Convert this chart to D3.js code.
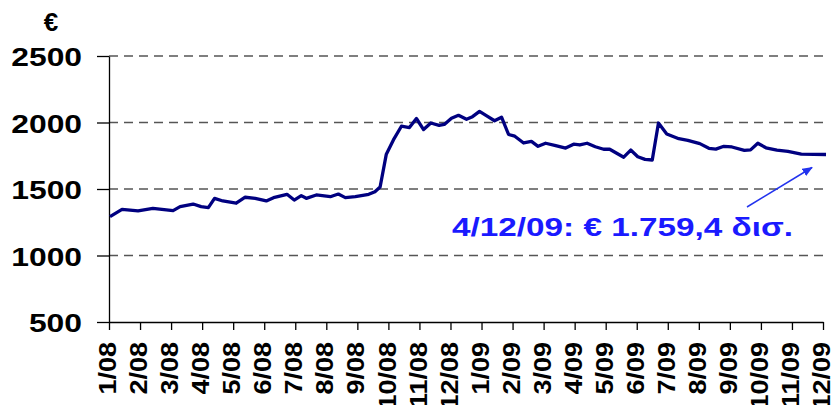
<!DOCTYPE html>
<html>
<head>
<meta charset="utf-8">
<script src="https://cdn.jsdelivr.net/npm/d3@7"></script>
<style>
    body { margin: 0; background: #fff; }
    svg { display: block; font-family: "Liberation Sans", Arial, sans-serif; font-weight: bold; }
</style>
</head>
<body>
<svg id="chart" width="833" height="405"></svg>
<script>
const monthLabels = [
    "1/08", "2/08", "3/08", "4/08", "5/08", "6/08", "7/08", "8/08", "9/08", "10/08", "11/08", "12/08",
    "1/09", "2/09", "3/09", "4/09", "5/09", "6/09", "7/09", "8/09", "9/09", "10/09", "11/09", "12/09"
];

const yTicks = [500, 1000, 1500, 2000, 2500];

const dates = [
    "2008-01-02", "2008-01-14", "2008-01-30", "2008-02-13", "2008-03-03", "2008-03-10",
    "2008-03-23", "2008-03-31", "2008-04-07", "2008-04-13", "2008-04-21", "2008-05-04",
    "2008-05-13", "2008-05-23", "2008-06-03", "2008-06-10", "2008-06-23", "2008-06-30",
    "2008-07-07", "2008-07-12", "2008-07-22", "2008-08-05", "2008-08-13", "2008-08-20",
    "2008-08-30", "2008-09-12", "2008-09-18", "2008-09-23", "2008-09-29", "2008-10-06",
    "2008-10-14", "2008-10-22", "2008-10-29", "2008-11-05", "2008-11-12", "2008-11-20",
    "2008-11-25", "2008-12-02", "2008-12-09", "2008-12-17", "2008-12-23", "2008-12-30",
    "2009-01-07", "2009-01-14", "2009-01-21", "2009-01-28", "2009-02-03", "2009-02-11",
    "2009-02-18", "2009-02-24", "2009-03-03", "2009-03-12", "2009-03-23", "2009-03-31",
    "2009-04-06", "2009-04-13", "2009-04-21", "2009-04-29", "2009-05-05", "2009-05-12",
    "2009-05-19", "2009-05-26", "2009-06-02", "2009-06-09", "2009-06-16", "2009-06-22",
    "2009-06-30", "2009-07-12", "2009-07-21", "2009-08-02", "2009-08-11", "2009-08-18",
    "2009-08-26", "2009-09-03", "2009-09-15", "2009-09-21", "2009-09-28", "2009-10-06",
    "2009-10-17", "2009-10-28", "2009-11-10", "2009-11-22", "2009-12-04"
];

const values = [
    1292, 1347, 1335, 1355, 1337, 1367,
    1387, 1367, 1360, 1430, 1410, 1393,
    1438, 1430, 1410, 1435, 1460, 1417,
    1450, 1430, 1455, 1442, 1462, 1435,
    1442, 1460, 1480, 1515, 1762, 1869,
    1972, 1962, 2030, 1947, 1996, 1978,
    1985, 2032, 2054, 2024, 2044, 2084,
    2046, 2013, 2040, 1910, 1897, 1846,
    1858, 1821, 1844, 1828, 1808, 1837,
    1831, 1844, 1818, 1799, 1799, 1769,
    1739, 1793, 1743, 1723, 1718, 1996,
    1914, 1878, 1866, 1841, 1806, 1800,
    1821, 1816, 1790, 1794, 1844, 1810,
    1793, 1783, 1762, 1761, 1759.4
];

const unitLabel = "€";
const noteText = "4/12/09: € 1.759,4 δισ.";

const svg = d3.select("#chart");
const plotLeft = 109, plotRight = 823, plotTop = 56, plotBottom = 322;

// position of a date in months since 1/08 (category axis, equal month widths)
const parseDate = d3.timeParse("%Y-%m-%d");
function monthPos(s) {
    const d = parseDate(s);
    const days = new Date(d.getFullYear(), d.getMonth() + 1, 0).getDate();
    return (d.getFullYear() - 2008) * 12 + d.getMonth() + (d.getDate() - 1) / days;
}

const data = dates.map((d, i) => ({ m: monthPos(d), v: values[i] }));

const x = d3.scaleLinear().domain([0, monthLabels.length - 1]).range([plotLeft, plotRight]);
const y = d3.scaleLinear().domain([500, 2500]).range([plotBottom, plotTop]);

// dashed gridlines
svg.append("g")
    .selectAll("line")
    .data(yTicks.filter(t => t > 500))
    .enter().append("line")
    .attr("x1", plotLeft)
    .attr("x2", plotRight + 2)
    .attr("y1", d => y(d))
    .attr("y2", d => y(d))
    .attr("stroke", "#555")
    .attr("stroke-width", 1.5)
    .attr("stroke-dasharray", "9,6");

// y axis
const yAxis = svg.append("g")
    .attr("transform", `translate(${plotLeft},0)`)
    .call(d3.axisLeft(y).tickValues(yTicks).tickFormat(d3.format("d"))
        .tickSize(12).tickPadding(15).tickSizeOuter(0));
yAxis.select(".domain").attr("stroke", "#000").attr("stroke-width", 1.3);
yAxis.selectAll(".tick line").attr("stroke", "#000").attr("stroke-width", 1.3);
yAxis.selectAll("text")
    .attr("fill", "#000")
    .attr("font-size", "26.5px")
    .attr("font-family", "'Liberation Sans', Arial, sans-serif")
    .attr("font-weight", "bold")
    .attr("dy", "0.36em")
    .each(function() {
        this.setAttribute("textLength", this.getComputedTextLength() * 1.2);
        this.setAttribute("lengthAdjust", "spacingAndGlyphs");
    });

// x axis
const xAxis = svg.append("g")
    .attr("transform", `translate(0,${plotBottom})`)
    .call(d3.axisBottom(x).tickValues(d3.range(monthLabels.length))
        .tickFormat(i => monthLabels[i]).tickSize(8).tickSizeOuter(0));
xAxis.select(".domain").attr("stroke", "#000").attr("stroke-width", 1.3);
xAxis.selectAll(".tick line").attr("stroke", "#000").attr("stroke-width", 1.3);
xAxis.selectAll("text")
    .attr("fill", "#000")
    .attr("font-size", "27px")
    .attr("font-family", "'Liberation Sans', Arial, sans-serif")
    .attr("font-weight", "bold")
    .attr("text-anchor", "end")
    .attr("transform", "rotate(-90) scale(1,0.86)")
    .attr("x", -20)
    .attr("y", -2)
    .attr("dy", "0.36em");

// the series
const line = d3.line()
    .x(d => x(d.m))
    .y(d => y(d.v));

svg.append("path")
    .datum(data)
    .attr("fill", "none")
    .attr("stroke", "#000080")
    .attr("stroke-width", 3.3)
    .attr("stroke-linejoin", "round")
    .attr("d", line);

// unit label
svg.append("text")
    .attr("x", 51)
    .attr("y", 31)
    .attr("text-anchor", "middle")
    .attr("font-size", "26px")
    .attr("fill", "#000")
    .text(unitLabel);

// annotation and arrow
svg.append("defs").append("marker")
    .attr("id", "head")
    .attr("viewBox", "0 0 10 10")
    .attr("refX", 9)
    .attr("refY", 5)
    .attr("markerWidth", 7)
    .attr("markerHeight", 7)
    .attr("orient", "auto")
    .append("path")
    .attr("d", "M0,1 L10,5 L0,9 Z")
    .attr("fill", "#2233ee");

const last = data[data.length - 1];
svg.append("line")
    .attr("x1", 747)
    .attr("y1", 207)
    .attr("x2", x(last.m) - 14)
    .attr("y2", y(last.v) + 13)
    .attr("stroke", "#2233ee")
    .attr("stroke-width", 1.5)
    .attr("marker-end", "url(#head)");

svg.append("text")
    .attr("x", 452)
    .attr("y", 236)
    .attr("font-size", "26px")
    .attr("fill", "#1a1aff")
    .attr("textLength", 341)
    .attr("lengthAdjust", "spacingAndGlyphs")
    .text(noteText);
</script>
</body>
</html>
